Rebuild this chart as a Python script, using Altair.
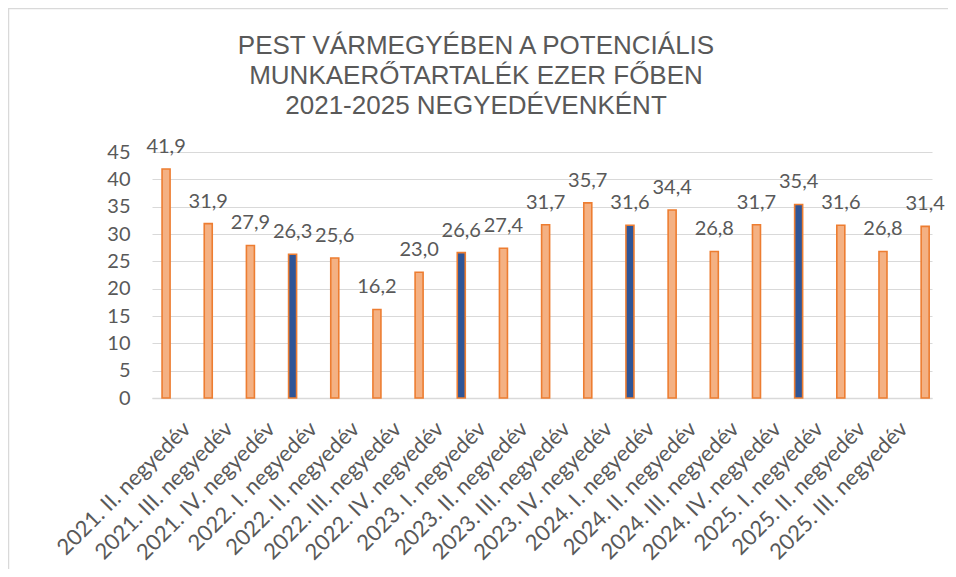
import altair as alt
import pandas as pd

title_lines = [
    "PEST VÁRMEGYÉBEN A POTENCIÁLIS",
    "MUNKAERŐTARTALÉK EZER FŐBEN",
    "2021-2025 NEGYEDÉVENKÉNT",
]

quarters = [
    "2021. II. negyedév", "2021. III. negyedév", "2021. IV. negyedév",
    "2022. I. negyedév", "2022. II. negyedév", "2022. III. negyedév", "2022. IV. negyedév",
    "2023. I. negyedév", "2023. II. negyedév", "2023. III. negyedév", "2023. IV. negyedév",
    "2024. I. negyedév", "2024. II. negyedév", "2024. III. negyedév", "2024. IV. negyedév",
    "2025. I. negyedév", "2025. II. negyedév", "2025. III. negyedév",
    "",
]

values = [41.9, 31.9, 27.9, 26.3, 25.6, 16.2, 23.0, 26.6, 27.4, 31.7,
          35.7, 31.6, 34.4, 26.8, 31.7, 35.4, 31.6, 26.8, 31.4]

y_ticks = [0, 5, 10, 15, 20, 25, 30, 35, 40, 45]

df = pd.DataFrame({"quarter": quarters, "value": values})
df["label"] = [f"{v:.1f}".replace(".", ",") for v in values]

GRAY = "#595959"
GRID = "#D9D9D9"
FONT = "Lato"

x_enc = alt.X(
    "quarter:N",
    sort=quarters,
    scale=alt.Scale(domain=quarters, paddingInner=0.81, paddingOuter=0.153, align=0.78),
    axis=alt.Axis(
        title=None, labelAngle=-45, labelAlign="right", labelBaseline="middle",
        labelOffset=21, labelPadding=27, ticks=False, domainColor=GRID, domainWidth=1.5,
        labelFont=FONT, labelFontSize=22, labelColor=GRAY, grid=False, labelOverlap=False,
        labelBound=False, labelFlush=False, labelLimit=0,
    ),
)
y_enc = alt.Y(
    "value:Q",
    scale=alt.Scale(domain=[0, 45], nice=False, zero=True),
    axis=alt.Axis(
        title=None, values=y_ticks, tickCount=10, domain=False, ticks=False, grid=True,
        gridColor=GRID, gridWidth=1.2, labelFont=FONT, labelFontSize=20,
        labelColor=GRAY, labelPadding=22, labelOverlap=False, labelFlush=False,
    ),
)

base = alt.Chart(df)

bars = base.mark_bar(stroke="#ED7D31", strokeWidth=1.6).encode(
    x=x_enc,
    y=y_enc,
    color=alt.condition(
        "indexof(datum.quarter, '. I. ') >= 0",
        alt.value("#2F5597"),
        alt.value("#F4B183"),
    ),
)

texts = base.mark_text(
    dy=-16, baseline="alphabetic", font=FONT, fontSize=20, color=GRAY
).encode(x=x_enc, y=y_enc, text="label:N")

frame = alt.Chart(pd.DataFrame({"k": [0]})).mark_rect(
    fillOpacity=0, stroke=GRID, strokeWidth=1.5
).encode(
    x=alt.value(-143.5), x2=alt.value(900), y=alt.value(-143.5), y2=alt.value(500)
)

chart = alt.layer(frame, bars, texts).properties(
    width=780,
    height=246,
    padding={"left": 144, "top": 144, "right": 16, "bottom": 171},
    autosize=alt.AutoSizeParams(type="none"),
    background="white",
    title=alt.TitleParams(
        text=title_lines, font="Liberation Sans", fontSize=26, fontWeight="normal",
        color=GRAY, anchor="middle", frame="group", dx=-66, offset=-132,
        lineHeight=30, baseline="alphabetic",
    ),
).configure_view(stroke=None)

chart.save("out.html", embed_options={"renderer": "svg", "actions": False})
